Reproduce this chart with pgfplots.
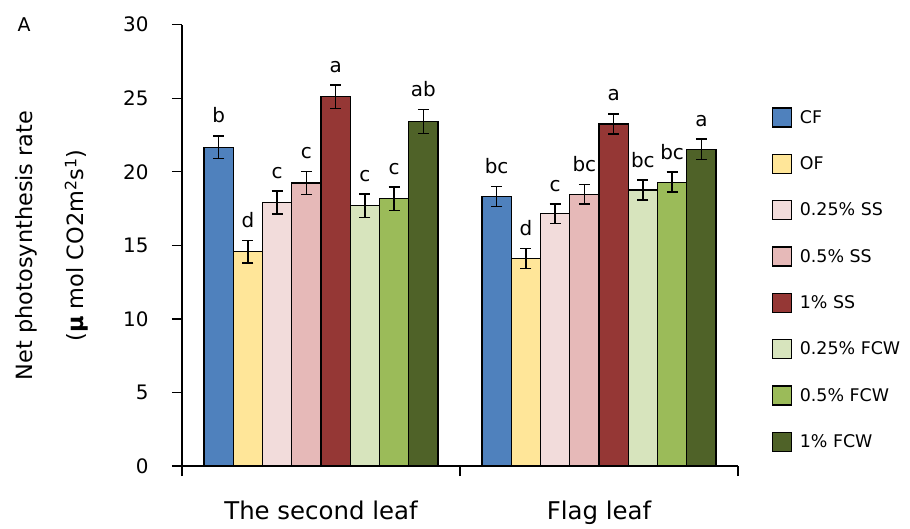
\documentclass[border=0pt]{standalone}
\usepackage{pgfplots}
\pgfplotsset{compat=1.18}
\usepackage{pgfplotstable}
\usepackage{fontspec}
\setmainfont{DejaVu Sans}
\definecolor{cCF}{HTML}{4F81BD}
\definecolor{cOF}{HTML}{FFE699}
\definecolor{cSSa}{HTML}{F2DCDB}
\definecolor{cSSb}{HTML}{E6B9B8}
\definecolor{cSSc}{HTML}{953735}
\definecolor{cFCWa}{HTML}{D7E4BD}
\definecolor{cFCWb}{HTML}{9BBB59}
\definecolor{cFCWc}{HTML}{4F6228}

\pgfplotstableread{
x y err lab
0 21.67 0.77 b
1 18.31 0.68 bc
}\tCF
\pgfplotstableread{
x y err lab
0 14.57 0.77 d
1 14.09 0.68 d
}\tOF
\pgfplotstableread{
x y err lab
0 17.90 0.78 c
1 17.15 0.66 c
}\tSSa
\pgfplotstableread{
x y err lab
0 19.24 0.77 c
1 18.47 0.67 bc
}\tSSb
\pgfplotstableread{
x y err lab
0 25.10 0.79 a
1 23.25 0.68 a
}\tSSc
\pgfplotstableread{
x y err lab
0 17.70 0.79 c
1 18.76 0.68 bc
}\tFCWa
\pgfplotstableread{
x y err lab
0 18.17 0.79 c
1 19.29 0.68 bc
}\tFCWb
\pgfplotstableread{
x y err lab
0 23.43 0.82 ab
1 21.53 0.69 a
}\tFCWc

\begin{document}
\begin{tikzpicture}
\path[use as bounding box] (0,0) rectangle (910bp,529bp);
\node at (24bp,504.5bp) {\fontsize{19}{22}\selectfont A};
\begin{axis}[
  at={(182bp,63bp)}, anchor=south west,
  scale only axis, width=556bp, height=441.3bp,
  xmin=-0.5, xmax=1.5, ymin=0, ymax=30,
  axis lines*=left,
  axis line style={line width=1.3bp, black},
  ybar=0pt, bar width=29.25bp,
  xtick={-0.5,0.5,1.5}, xticklabels={},
  extra x ticks={0,1},
  extra x tick labels={The second leaf, Flag leaf},
  extra x tick style={major tick length=0pt,
    xticklabel style={font=\fontsize{24.5}{28}\selectfont, anchor=base, yshift=-53bp}},
  ytick={0,5,...,30},
  tick align=outside,
  major tick length=10bp,
  tick style={line width=1.3bp, black},
  /pgf/number format/assume math mode=true,
  yticklabel style={font=\fontsize{20}{24}\selectfont, anchor=east, xshift=-20bp},
  every axis y label/.style={at={(axis description cs:-0.234,0.5)}, rotate=90,
    anchor=center, align=center, font=\fontsize{22.5}{52}\selectfont},
  ylabel={Net photosynthesis rate\\({\bfseries µ} mol CO2m\textsuperscript{2}s\textsuperscript{1})},
  legend style={at={(axis description cs:1.060,0.813)}, anchor=north west,
    draw=none, fill=none, inner sep=0pt, row sep=26bp, column sep=6bp,
    font=\fontsize{17.5}{20}\selectfont},
  legend cell align=left,
  legend image code/.code={\draw[#1, line width=1.3bp] (0bp,-9.5bp) rectangle (19bp,9.5bp);},
  point meta=explicit symbolic,
  nodes near coords,
  visualization depends on={\thisrow{err} \as \myerr},
  nodes near coords style={font=\fontsize{20}{24}\selectfont, anchor=base, black,
    yshift=13bp, shift={(axis direction cs:0,\myerr)}},
  error bars/y dir=both, error bars/y explicit,
  error bars/error bar style={line width=1.5bp, black},
  error bars/error mark options={rotate=90, mark size=5.5bp, line width=1.5bp, black},
]
\addplot[fill=cCF, draw=black, line width=1.4bp] table[x=x, y=y, y error=err, meta=lab] {\tCF};
\addplot[fill=cOF, draw=black, line width=1.4bp] table[x=x, y=y, y error=err, meta=lab] {\tOF};
\addplot[fill=cSSa, draw=black, line width=1.4bp] table[x=x, y=y, y error=err, meta=lab] {\tSSa};
\addplot[fill=cSSb, draw=black, line width=1.4bp] table[x=x, y=y, y error=err, meta=lab] {\tSSb};
\addplot[fill=cSSc, draw=black, line width=1.4bp] table[x=x, y=y, y error=err, meta=lab] {\tSSc};
\addplot[fill=cFCWa, draw=black, line width=1.4bp] table[x=x, y=y, y error=err, meta=lab] {\tFCWa};
\addplot[fill=cFCWb, draw=black, line width=1.4bp] table[x=x, y=y, y error=err, meta=lab] {\tFCWb};
\addplot[fill=cFCWc, draw=black, line width=1.4bp] table[x=x, y=y, y error=err, meta=lab] {\tFCWc};
\legend{CF, OF, 0.25\% SS, 0.5\% SS, 1\% SS, 0.25\% FCW, 0.5\% FCW, 1\% FCW}
\end{axis}
\end{tikzpicture}
\end{document}
